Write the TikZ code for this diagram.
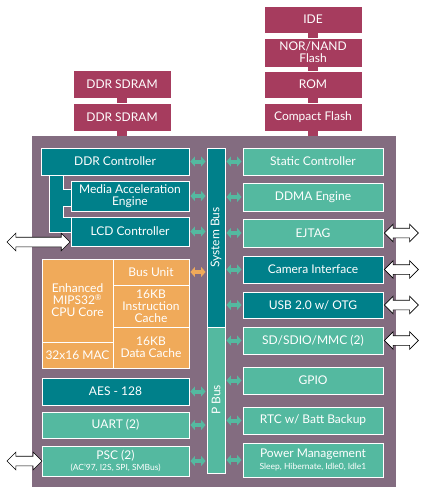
\documentclass[tikz,border=0pt]{standalone}
\usepackage{fontspec}
\setmainfont{Lato}
\usepackage{tikz}
\usetikzlibrary{positioning}
\usetikzlibrary{arrows.meta}
\usetikzlibrary{shapes.arrows}
\definecolor{chipbg}{RGB}{131,108,128}
\definecolor{tealdk}{RGB}{0,128,138}
\definecolor{teallt}{RGB}{84,185,160}
\definecolor{cpuorg}{RGB}{240,170,90}
\definecolor{memred}{RGB}{166,60,94}
\tikzset{every node/.style={ % white text, no padding
inner sep=0pt,
text=white,
font=\fontsize{12}{12}\selectfont},
blk/.style={draw=white, line width=0.9pt, align=center},
dkblk/.style={blk, fill=tealdk},
ltblk/.style={blk, fill=teallt},
cpublk/.style={blk, fill=cpuorg},
memblk/.style={blk, fill=memred},
memlink/.style={draw=memred, line width=10pt},
busarr/.style={ % bus connections
draw=teallt,
line width=4pt,
{Triangle[width=10pt,length=4.5pt]}-{Triangle[width=10pt,length=4.5pt]},
shorten <=1pt, shorten >=1pt},
ioarr/.style={ % ports leaving the chip
double arrow, draw=black, fill=white, line width=0.6pt,
inner ysep=4.5pt, minimum width=17pt, double arrow head extend=4pt}}

\begin{document}
\begin{tikzpicture}[x=1pt, y=-1pt]
\useasboundingbox (0,0) rectangle (424,498);
% memory stacks and the chip
\node[fill=chipbg, minimum width=364, minimum height=351] (chip) at (214,311.5) {};
\node[memblk, minimum width=98, minimum height=28] (sdram1) at (122,84) {DDR SDRAM};
\node[memblk, minimum width=98, minimum height=28] (sdram2) at (122,117) {DDR SDRAM};
\node[memblk, minimum width=98, minimum height=27] (ide) at (313,19.5) {IDE};
\node[memblk, minimum width=98, minimum height=29] (nor) at (313,52.5) {NOR/NAND\\Flash};
\node[memblk, minimum width=98, minimum height=27] (rom) at (313,84.5) {ROM};
\node[memblk, minimum width=98, minimum height=28] (cf) at (313,117) {Compact Flash};
\draw[memlink] (sdram1.south) -- (sdram2.north);
\draw[memlink] (sdram2.south) -- (sdram2.south |- chip.north);
\draw[memlink] (ide.south) -- (nor.north);
\draw[memlink] (nor.south) -- (rom.north);
\draw[memlink] (rom.south) -- (cf.north);
\draw[memlink] (cf.south) -- (cf.south |- chip.north);
% link from DDR controller to media and LCD
\draw[fill=tealdk, draw=white, line width=0.9pt] (49,175) -- (63,175) -- (63,189) -- (72,189) -- (72,206) -- (63,206) -- (63,217) -- (72,217) -- (72,232) -- (49,232) -- cycle;
% left column
\node[dkblk, minimum width=148, minimum height=27] (ddrctl) at (115,161.5) {DDR Controller};
\node[dkblk, minimum width=118, minimum height=30] (media) at (130,196) {Media Acceleration\\Engine};
\node[dkblk, minimum width=118, minimum height=29] (lcd) at (130,231.5) {LCD Controller};
\node[cpublk, minimum width=71, minimum height=83] (core) at (77.5,300.5) {Enhanced\\MIPS32\textsuperscript{\textregistered}\\CPU Core};
\node[cpublk, minimum width=71, minimum height=26] (mac) at (77.5,355) {32x16 MAC};
\node[cpublk, minimum width=76, minimum height=26] (busunit) at (151,272) {Bus Unit};
\node[cpublk, minimum width=76, minimum height=42] (icache) at (151,306) {16KB\\Instruction\\Cache};
\node[cpublk, minimum width=76, minimum height=41] (dcache) at (151,347.5) {16KB\\Data Cache};
\node[dkblk, minimum width=147, minimum height=27] (aes) at (115.5,391.5) {AES - 128};
\node[ltblk, minimum width=147, minimum height=26] (uart) at (115.5,425) {UART (2)};
\node[ltblk, minimum width=147, minimum height=30] (psc) at (115.5,461) {PSC (2)\\[-0.5pt]{\fontsize{8.5}{9}\selectfont (AC'97, I2S, SPI, SMBus)}};
% buses
\node[dkblk, minimum width=18, minimum height=179, label={[rotate=90]center:System Bus}] (sysbus) at (216,237.5) {};
\node[ltblk, minimum width=18, minimum height=146, label={[rotate=90]center:P Bus}] (pbus) at (216,400) {};
% right column
\node[ltblk, minimum width=140, minimum height=27] (static) at (313,161.5) {Static Controller};
\node[ltblk, minimum width=140, minimum height=28] (ddma) at (313,197) {DDMA Engine};
\node[ltblk, minimum width=140, minimum height=28] (ejtag) at (313,233) {EJTAG};
\node[dkblk, minimum width=140, minimum height=27] (camera) at (313,269.5) {Camera Interface};
\node[dkblk, minimum width=140, minimum height=26] (usb) at (313,305) {USB 2.0 w/ OTG};
\node[ltblk, minimum width=140, minimum height=27] (sdmmc) at (313,340.5) {SD/SDIO/MMC (2)};
\node[ltblk, minimum width=140, minimum height=27] (gpio) at (313,380.5) {GPIO};
\node[ltblk, minimum width=140, minimum height=27] (rtc) at (313,420.5) {RTC w/ Batt Backup};
\node[ltblk, minimum width=140, minimum height=34] (power) at (313,460) {Power Management\\[-0.5pt]{\fontsize{8.5}{9}\selectfont Sleep, Hibernate, Idle0, Idle1}};
% bus arrows
\foreach \n in {ddrctl,media,lcd,aes,uart,psc}
  \draw[busarr] (\n.east) -- (\n.east -| sysbus.west);
\draw[busarr, draw=cpuorg] (busunit.east) -- (busunit.east -| sysbus.west);
\foreach \n in {static,ddma,ejtag,camera,usb,sdmmc,gpio,rtc,power}
  \draw[busarr] (sysbus.east |- \n.west) -- (\n.west);
% ports
\node[ioarr, minimum height=63] (lcdio) at (38.5,242) {};
\node[ioarr, minimum height=35] (pscio) at (24.5,461) {};
\foreach \n in {ejtag,camera,usb,sdmmc}
  \node[ioarr, minimum height=34, right=0.5pt of \n] (\n io) {};
\end{tikzpicture}
\end{document}
